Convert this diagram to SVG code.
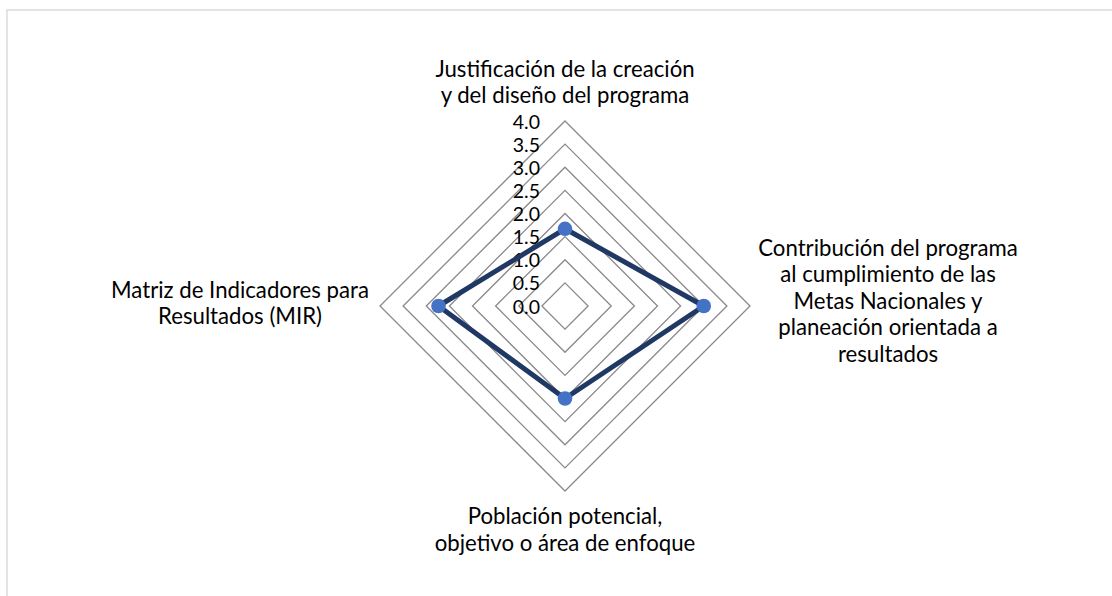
<svg xmlns="http://www.w3.org/2000/svg" width="1112" height="596" viewBox="0 0 1112 596">
  <style>
    .ring { fill: none; stroke: #898989; stroke-width: 1.3; }
    .lbl { font-family: Lato, "Liberation Sans", sans-serif; font-size: 22.2px; fill: #000; text-anchor: middle; }
    .tick { font-family: Lato, "Liberation Sans", sans-serif; font-size: 19.5px; fill: #000; text-anchor: end; }
    .series { fill: none; stroke: #203864; stroke-width: 5; stroke-linejoin: round; }
    .dot { fill: #4472C4; }
  </style>
  <rect x="0" y="0" width="1112" height="596" fill="#ffffff"/>
  <rect x="7" y="10" width="1130" height="620" fill="none" stroke="#d9d9d9" stroke-width="1.4"/>

  <g id="grid">
    <polygon class="ring" points="565,282.9 588.1,306 565,329.1 541.9,306"/>
    <polygon class="ring" points="565,259.75 611.25,306 565,352.25 518.75,306"/>
    <polygon class="ring" points="565,236.6 634.4,306 565,375.4 495.6,306"/>
    <polygon class="ring" points="565,213.5 657.5,306 565,398.5 472.5,306"/>
    <polygon class="ring" points="565,190.4 680.6,306 565,421.6 449.4,306"/>
    <polygon class="ring" points="565,167.25 703.75,306 565,444.75 426.25,306"/>
    <polygon class="ring" points="565,144.1 726.9,306 565,467.9 403.1,306"/>
    <polygon class="ring" points="565,121 750,306 565,491 380,306"/>
  </g>

  <g id="axis-values">
    <text class="tick" x="540" y="128.5">4.0</text>
    <text class="tick" x="540" y="151.6">3.5</text>
    <text class="tick" x="540" y="174.75">3.0</text>
    <text class="tick" x="540" y="197.9">2.5</text>
    <text class="tick" x="540" y="221">2.0</text>
    <text class="tick" x="540" y="244.1">1.5</text>
    <text class="tick" x="540" y="267.25">1.0</text>
    <text class="tick" x="540" y="290.4">0.5</text>
    <text class="tick" x="540" y="313.5">0.0</text>
  </g>

  <g id="series">
    <polygon class="series" points="565,228.8 703.75,306 565,398.5 438.5,306"/>
    <circle class="dot" cx="565" cy="228.8" r="7.3"/>
    <circle class="dot" cx="703.75" cy="306" r="7.3"/>
    <circle class="dot" cx="565" cy="398.5" r="7.3"/>
    <circle class="dot" cx="438.5" cy="306" r="7.3"/>
  </g>

  <g id="label-top">
    <text class="lbl" x="565" y="77">Justificación de la creación</text>
    <text class="lbl" x="565" y="103">y del diseño del programa</text>
  </g>
  <g id="label-right">
    <text class="lbl" x="888" y="255.7">Contribución del programa</text>
    <text class="lbl" x="888" y="282.2">al cumplimiento de las</text>
    <text class="lbl" x="888" y="308.7">Metas Nacionales y</text>
    <text class="lbl" x="888" y="335.2">planeación orientada a</text>
    <text class="lbl" x="888" y="361.7">resultados</text>
  </g>
  <g id="label-bottom">
    <text class="lbl" x="565" y="523.5">Población potencial,</text>
    <text class="lbl" x="565" y="550.5">objetivo o área de enfoque</text>
  </g>
  <g id="label-left">
    <text class="lbl" x="240" y="298.3">Matriz de Indicadores para</text>
    <text class="lbl" x="240" y="324.3">Resultados (MIR)</text>
  </g>
</svg>
